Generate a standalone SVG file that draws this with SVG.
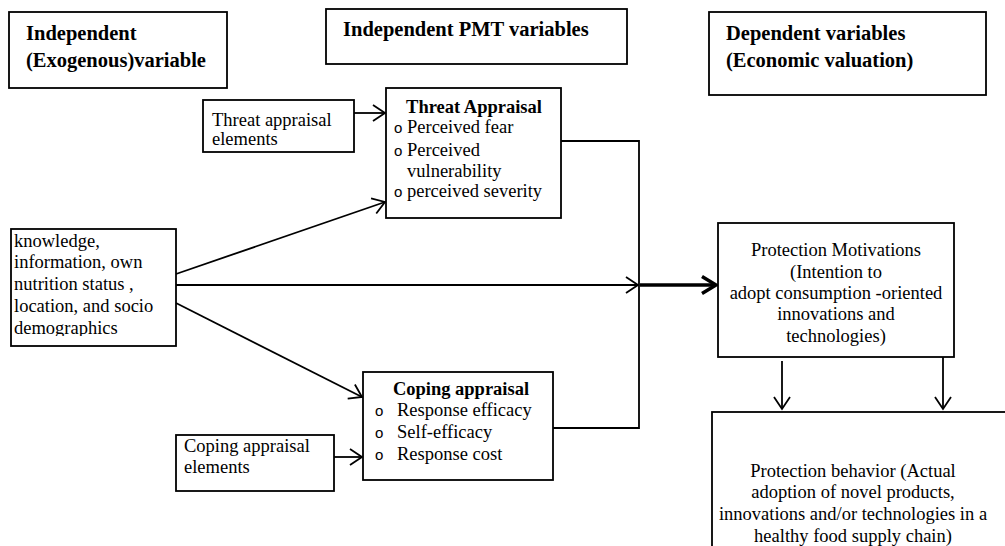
<svg xmlns="http://www.w3.org/2000/svg" width="1005" height="546" viewBox="0 0 1005 546">
<style>
.box{fill:#fff;stroke:#000;stroke-width:1.8}
.t{font-family:"Liberation Serif","Times New Roman",serif;font-size:18.5px;fill:#000}
.h{font-family:"Liberation Serif","Times New Roman",serif;font-size:20.5px;font-weight:bold;fill:#000}
.hb{font-family:"Liberation Serif","Times New Roman",serif;font-size:18.5px;font-weight:bold;fill:#000}
.bul{font-family:"Liberation Sans",Arial,sans-serif;font-size:15px;fill:#000}
.ln{fill:none;stroke:#000;stroke-width:1.8}
.thick{fill:none;stroke:#000;stroke-width:3.5}
</style>
<defs>
<marker id="arr" markerUnits="userSpaceOnUse" markerWidth="16" markerHeight="20" refX="13" refY="9" orient="auto" overflow="visible">
<path d="M1,1 L13,9 L1,17" fill="none" stroke="#000" stroke-width="1.8"/>
</marker>
<marker id="arrT" markerUnits="userSpaceOnUse" markerWidth="18" markerHeight="22" refX="15" refY="10" orient="auto" overflow="visible">
<path d="M1,1.5 L15,10 L1,18.5" fill="none" stroke="#000" stroke-width="3.5"/>
</marker>
<clipPath id="kclip"><rect x="11" y="229" width="165" height="107"/></clipPath>
</defs>

<g id="hdr-independent">
<rect class="box" x="9" y="12" width="218" height="76"/>
<text class="h" x="26" y="40">Independent</text>
<text class="h" x="26" y="67">(Exogenous)variable</text>
</g>

<g id="hdr-pmt">
<rect class="box" x="326" y="9" width="301" height="55"/>
<text class="h" x="343" y="36">Independent PMT variables</text>
</g>

<g id="hdr-dependent">
<rect class="box" x="709" y="12" width="277" height="83"/>
<text class="h" x="726" y="40">Dependent variables</text>
<text class="h" x="726" y="67">(Economic valuation)</text>
</g>

<g id="connectors">
<line class="ln" x1="354" y1="113" x2="385" y2="113" marker-end="url(#arr)"/>
<line class="ln" x1="176" y1="274" x2="385" y2="202" marker-end="url(#arr)"/>
<line class="ln" x1="176" y1="285" x2="638" y2="285" marker-end="url(#arr)"/>
<line class="ln" x1="176" y1="303" x2="362" y2="397" marker-end="url(#arr)"/>
<line class="ln" x1="334" y1="457" x2="362" y2="457" marker-end="url(#arr)"/>
<polyline class="ln" points="561,141 639,141 639,428 553,428"/>
<line class="thick" x1="640" y1="285" x2="716" y2="285" marker-end="url(#arrT)"/>
<line class="ln" x1="782" y1="361" x2="782" y2="409" marker-end="url(#arr)"/>
<line class="ln" x1="943" y1="357" x2="943" y2="409" marker-end="url(#arr)"/>
</g>

<g id="threat-elements">
<rect class="box" x="203" y="100" width="151" height="52"/>
<text class="t" x="212" y="126">Threat appraisal</text>
<text class="t" x="212" y="145">elements</text>
</g>

<g id="threat-appraisal">
<rect class="box" x="386" y="88" width="175" height="130"/>
<text class="hb" x="474" y="113" text-anchor="middle">Threat Appraisal</text>
<text class="bul" x="394" y="133">o</text>
<text class="t" x="407" y="133">Perceived fear</text>
<text class="bul" x="394" y="156">o</text>
<text class="t" x="407" y="156">Perceived</text>
<text class="t" x="407" y="177">vulnerability</text>
<text class="bul" x="394" y="197">o</text>
<text class="t" x="407" y="197">perceived severity</text>
</g>

<g id="knowledge">
<rect class="box" x="11" y="229" width="165" height="117"/>
<g clip-path="url(#kclip)">
<text class="t" x="14" y="247">knowledge,</text>
<text class="t" x="14" y="268">information, own</text>
<text class="t" x="14" y="290">nutrition status ,</text>
<text class="t" x="14" y="312">location, and socio</text>
<text class="t" x="14" y="334">demographics</text>
</g>
</g>

<g id="coping-appraisal">
<rect class="box" x="363" y="372" width="190" height="108"/>
<text class="hb" x="461" y="395" text-anchor="middle">Coping appraisal</text>
<text class="bul" x="375" y="416">o</text>
<text class="t" x="397" y="416">Response efficacy</text>
<text class="bul" x="375" y="438">o</text>
<text class="t" x="397" y="438">Self-efficacy</text>
<text class="bul" x="375" y="460">o</text>
<text class="t" x="397" y="460">Response cost</text>
</g>

<g id="coping-elements">
<rect class="box" x="176" y="435" width="158" height="56"/>
<text class="t" x="184" y="452">Coping appraisal</text>
<text class="t" x="184" y="473">elements</text>
</g>

<g id="protection-motivations">
<rect class="box" x="718" y="223" width="236" height="134"/>
<text class="t" x="836" y="256" text-anchor="middle">Protection Motivations</text>
<text class="t" x="836" y="278" text-anchor="middle">(Intention to</text>
<text class="t" x="836" y="299" text-anchor="middle">adopt consumption -oriented</text>
<text class="t" x="836" y="320" text-anchor="middle">innovations and</text>
<text class="t" x="836" y="342" text-anchor="middle">technologies)</text>
</g>

<g id="protection-behavior">
<rect class="box" x="712" y="412" width="310" height="150"/>
<text class="t" x="853" y="477" text-anchor="middle">Protection behavior (Actual</text>
<text class="t" x="853" y="498" text-anchor="middle">adoption of novel products,</text>
<text class="t" x="853" y="520" text-anchor="middle">innovations and/or technologies in a</text>
<text class="t" x="853" y="542" text-anchor="middle">healthy food supply chain)</text>
</g>
</svg>
